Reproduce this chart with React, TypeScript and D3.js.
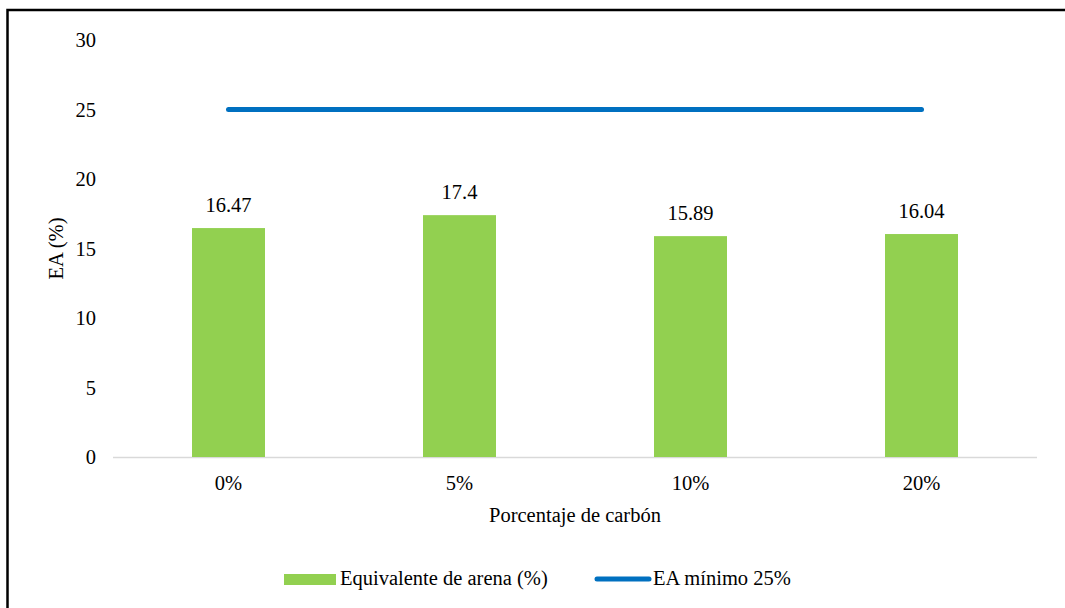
import React from "react";
import * as d3 from "d3";

const categories = ["0%", "5%", "10%", "20%"];
const eaValues = [16.47, 17.4, 15.89, 16.04];
const eaLabels = ["16.47", "17.4", "15.89", "16.04"];
const minimumEA = [25, 25, 25, 25];
const yTicks = [0, 5, 10, 15, 20, 25, 30];

const W = 1065;
const H = 608;
const FONT = '"Liberation Serif", Tinos, "Times New Roman", Times, "DejaVu Serif", serif';
const FS = 20.5;

export default function App() {
  const x = d3.scaleBand<string>().domain(categories).range([113, 1037]).paddingInner(0).paddingOuter(0);
  const y = d3.scaleLinear().domain([0, 30]).range([457, 40]);
  const barW = x.bandwidth() * 0.316;
  const cx = (c: string) => (x(c) as number) + x.bandwidth() / 2;
  const line = d3
    .line<number>()
    .x((_, i) => cx(categories[i]))
    .y((d) => y(d));
  const ts: React.CSSProperties = { fontFamily: FONT, fontSize: FS, fill: "#000" };

  return (
    <svg
      width={W}
      height={H}
      style={{ position: "absolute", left: 0, top: 0, background: "#fff", fontFamily: FONT }}
    >
      <rect x={7.5} y={10} width={W + 20} height={H + 20} fill="#fff" stroke="#000" strokeWidth={2.5} />
      {yTicks.map((t) => (
        <text key={t} x={96} y={y(t) + 7} textAnchor="end" style={ts}>
          {t}
        </text>
      ))}
      <line x1={113} x2={1037} y1={y(0) + 0.5} y2={y(0) + 0.5} stroke="#d9d9d9" strokeWidth={1.5} />
      {categories.map((c, i) => (
        <g key={c}>
          <rect x={cx(c) - barW / 2} y={y(eaValues[i])} width={barW} height={y(0) - y(eaValues[i])} fill="#92d050" />
          <text x={cx(c)} y={y(eaValues[i]) - 16} textAnchor="middle" style={ts}>
            {eaLabels[i]}
          </text>
          <text x={cx(c)} y={490} textAnchor="middle" style={ts}>
            {c}
          </text>
        </g>
      ))}
      <path d={line(minimumEA) || ""} fill="none" stroke="#0070c0" strokeWidth={5} strokeLinecap="round" />
      <text x={575} y={522} textAnchor="middle" style={ts}>
        Porcentaje de carbón
      </text>
      <text transform={`translate(63, ${(y(0) + y(30)) / 2}) rotate(-90)`} textAnchor="middle" style={ts}>
        EA (%)
      </text>
      <rect x={284} y={574} width={52} height={11} fill="#92d050" />
      <text x={340} y={585} style={ts}>
        Equivalente de arena (%)
      </text>
      <line x1={597} x2={649} y1={579} y2={579} stroke="#0070c0" strokeWidth={5} strokeLinecap="round" />
      <text x={653} y={585} style={ts}>
        EA mínimo 25%
      </text>
    </svg>
  );
}
